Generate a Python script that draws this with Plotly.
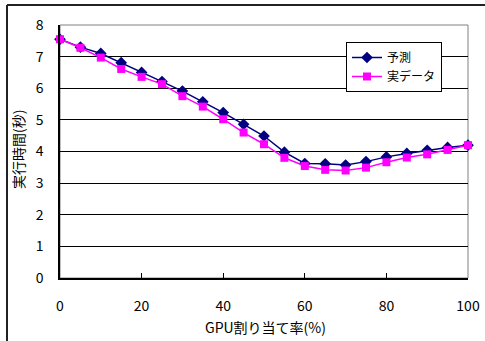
import plotly.graph_objects as go

gpu_ratio = [0, 5, 10, 15, 20, 25, 30, 35, 40, 45, 50, 55, 60, 65, 70, 75, 80, 85, 90, 95, 100]
predicted = [7.55, 7.3, 7.1, 6.81, 6.5, 6.21, 5.91, 5.57, 5.23, 4.86, 4.49, 3.98, 3.62, 3.61, 3.57, 3.68, 3.83, 3.94, 4.04, 4.13, 4.2]
actual = [7.55, 7.28, 6.97, 6.61, 6.36, 6.13, 5.75, 5.42, 5.02, 4.6, 4.23, 3.8, 3.54, 3.42, 3.4, 3.49, 3.66, 3.81, 3.91, 4.05, 4.2]
y_ticks = [0, 1, 2, 3, 4, 5, 6, 7, 8]
x_ticks = [0, 20, 40, 60, 80, 100]
x_title = "GPU割り当て率(%)"
y_title = "実行時間(秒)"

FONT = "Noto Sans CJK JP"
L, R, T, B = 60, 17, 25, 63
W, H = 485, 341
PW, PH = W - L - R, H - T - B


def px_x(p):
    return (p - L) / PW


def px_y(p):
    return (H - B - p) / PH


fig = go.Figure()
fig.add_trace(go.Scatter(
    x=gpu_ratio, y=predicted, name="予測", mode="lines+markers",
    line=dict(color="#000080", width=1.5),
    marker=dict(symbol="diamond", size=9, color="#000080"),
    cliponaxis=False))
fig.add_trace(go.Scatter(
    x=gpu_ratio, y=actual, name="実データ", mode="lines+markers",
    line=dict(color="#FF00FF", width=1.5),
    marker=dict(symbol="square", size=8, color="#FF00FF"),
    cliponaxis=False))

fig.update_layout(
    width=W, height=H,
    margin=dict(l=L, r=R, t=T, b=B, autoexpand=False),
    paper_bgcolor="white", plot_bgcolor="white",
    font=dict(family=FONT, size=14, color="black"),
    showlegend=True,
    legend=dict(x=px_x(346), y=px_y(42), xanchor="left", yanchor="top",
                bgcolor="white", bordercolor="black", borderwidth=1,
                font=dict(family=FONT, size=12), tracegroupgap=0,
                itemwidth=30),
    shapes=[
        dict(type="rect", xref="paper", yref="paper", x0=0, x1=1, y0=0, y1=1,
             line=dict(color="#808080", width=1), layer="below"),
        dict(type="line", xref="paper", yref="paper", x0=px_x(7), x1=px_x(490), y0=px_y(5), y1=px_y(5),
             line=dict(color="#222", width=2)),
        dict(type="line", xref="paper", yref="paper", x0=px_x(7), x1=px_x(7), y0=px_y(5), y1=px_y(350),
             line=dict(color="#222", width=2)),
    ],
    annotations=[
        dict(text=x_title, xref="paper", yref="paper", x=px_x(265), y=px_y(327),
             showarrow=False, xanchor="center", yanchor="middle",
             font=dict(family=FONT, size=14)),
        dict(text=y_title, xref="paper", yref="paper", x=px_x(18), y=px_y(150),
             showarrow=False, xanchor="center", yanchor="middle", textangle=-90,
             font=dict(family=FONT, size=14)),
    ],
)
fig.update_xaxes(
    range=[0, 100], tickvals=x_ticks, showgrid=False, zeroline=False,
    showline=True, linecolor="black", linewidth=1.5,
    ticks="inside", ticklen=5, tickcolor="black",
    ticklabelstandoff=14, automargin=False,
)
fig.update_yaxes(
    range=[0, 8], tickvals=y_ticks, showgrid=True, gridcolor="black", gridwidth=1,
    zeroline=False, showline=True, linecolor="black", linewidth=1.5,
    ticks="", ticklabelstandoff=12, automargin=False,
)

fig.write_html("out.html", config={"displayModeBar": False},
               post_script="document.body.style.margin='0';document.body.style.overflow='hidden';")
